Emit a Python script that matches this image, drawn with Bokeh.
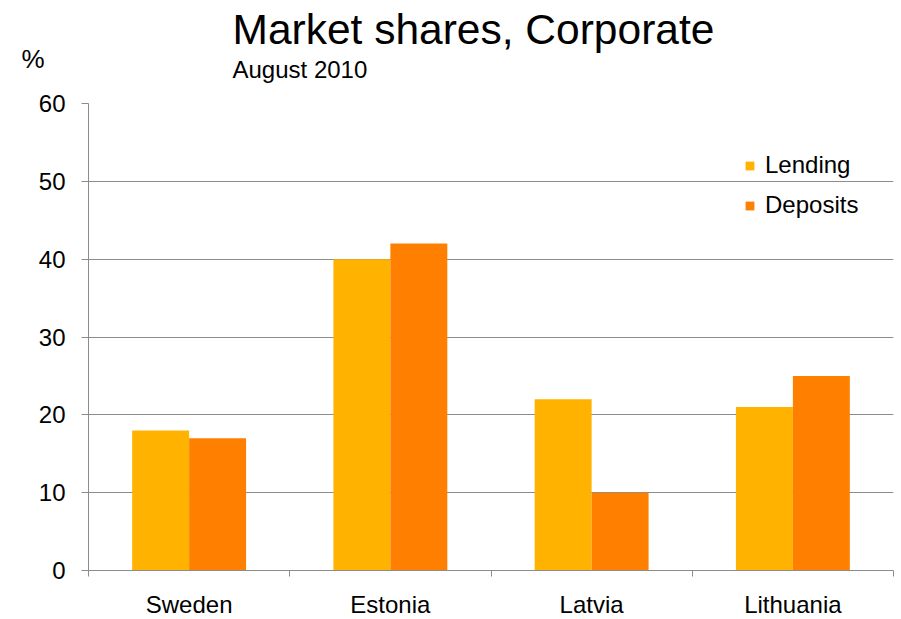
import numpy as np
from bokeh.plotting import figure
from bokeh.models import (ColumnDataSource, FixedTicker, Label, Legend, LegendItem, Range1d, Title)
from bokeh.transform import dodge
from bokeh.embed import file_html
from bokeh.resources import INLINE

categories = ["Sweden", "Estonia", "Latvia", "Lithuania"]
lending = [18, 40, 22, 21]
deposits = [17, 42, 10, 25]
y_ticks = [0, 10, 20, 30, 40, 50, 60]

title_text = "Market shares, Corporate"
subtitle_text = "August 2010"
unit_text = "%"

FONT = "Liberation Sans"
GRAY = "#8c8c8c"
C_LEND = "#FFB300"
C_DEP = "#FF8000"

centers = [i + 0.5 for i in range(len(categories))]
bounds = [float(i) for i in range(len(categories) + 1)]

src = ColumnDataSource(dict(x=centers, lending=lending, deposits=deposits))

p = figure(frame_width=805, frame_height=467, output_backend="svg", toolbar_location=None,
           x_range=Range1d(0, len(categories)), y_range=Range1d(y_ticks[0], y_ticks[-1]),
           min_border_left=88, min_border_right=2, min_border_top=103, min_border_bottom=44)
p.outline_line_color = None

bw = 0.283
r1 = p.vbar(x=dodge("x", -bw / 2, range=p.x_range), top="lending", width=bw, bottom=0,
            source=src, fill_color=C_LEND, line_color=None)
r2 = p.vbar(x=dodge("x", bw / 2, range=p.x_range), top="deposits", width=bw, bottom=0,
            source=src, fill_color=C_DEP, line_color=None)

xa = p.xaxis[0]
xa.ticker = FixedTicker(ticks=centers, minor_ticks=bounds)
xa.major_label_overrides = {c: n for c, n in zip(centers, categories)}
xa.major_tick_out = 0
xa.major_tick_in = 0
xa.minor_tick_out = 6
xa.minor_tick_in = 0
xa.minor_tick_line_color = GRAY
xa.axis_line_color = GRAY
xa.major_label_text_font = FONT
xa.major_label_text_font_size = "24px"
xa.major_label_text_color = "black"
xa.major_label_standoff = 14

ya = p.yaxis[0]
ya.ticker = FixedTicker(ticks=y_ticks)
ya.major_tick_out = 7
ya.major_tick_in = 0
ya.minor_tick_out = 0
ya.minor_tick_in = 0
ya.major_tick_line_color = GRAY
ya.axis_line_color = GRAY
ya.major_label_text_font = FONT
ya.major_label_text_font_size = "24px"
ya.major_label_text_color = "black"
ya.major_label_standoff = 16

p.xgrid.visible = False
p.ygrid.grid_line_color = GRAY
p.ygrid.grid_line_width = 1

p.add_layout(Title(text=subtitle_text, align="left", offset=144, text_font=FONT,
                   text_font_size="24px", text_font_style="normal", text_color="black",
                   standoff=42), "above")
p.add_layout(Title(text=title_text, align="left", offset=144, text_font=FONT,
                   text_font_size="42.5px", text_font_style="normal", text_color="black",
                   standoff=-40), "above")

p.add_layout(Label(x=9, y=512, x_units="screen", y_units="screen", text=unit_text,
                   text_font=FONT, text_font_size="26px", text_color="black",
                   text_baseline="alphabetic"), "left")

legend = Legend(items=[LegendItem(label="Lending", renderers=[r1]),
                       LegendItem(label="Deposits", renderers=[r2])],
                location=(656, 351), orientation="vertical",
                glyph_width=11, glyph_height=11, label_text_font=FONT,
                label_text_font_size="24px", label_text_color="black",
                label_standoff=10, spacing=12,
                padding=0, margin=0, border_line_color=None, background_fill_alpha=0)
p.add_layout(legend, "center")

open("out.html", "w").write(file_html(p, INLINE))
